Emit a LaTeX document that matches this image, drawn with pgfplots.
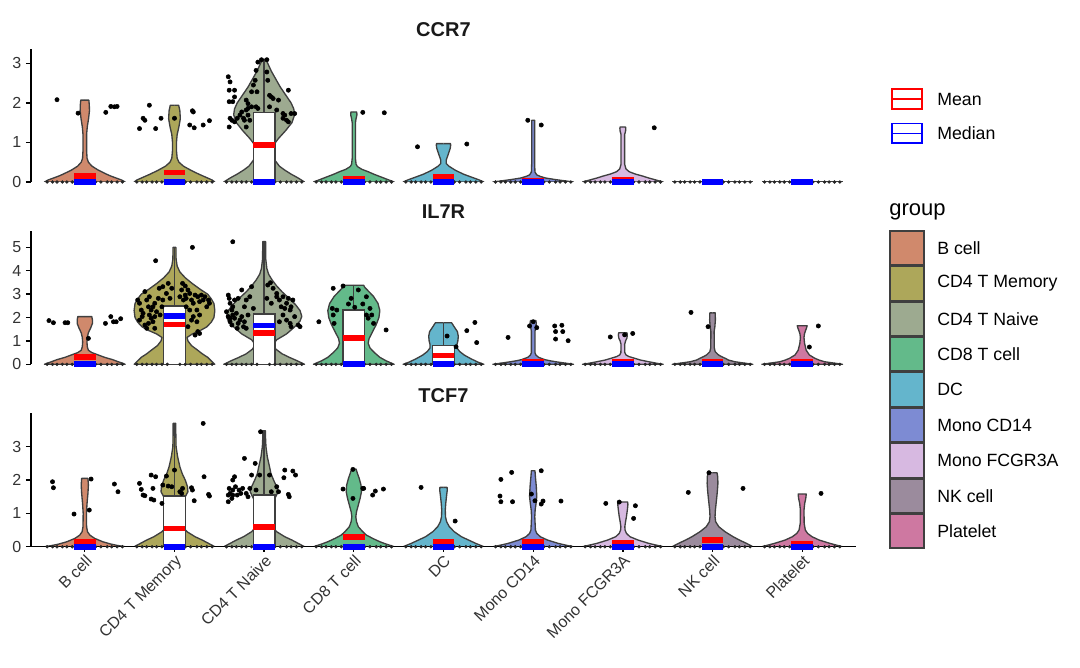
\documentclass[border=0pt]{standalone}
\usepackage{fontspec}
\setmainfont{Liberation Sans}
\usepackage{pgfplots}
\pgfplotsset{compat=1.18}
\usepackage{pgfplotstable}

\definecolor{cBc}{HTML}{D0896C}
\definecolor{cMem}{HTML}{ADA75A}
\definecolor{cNai}{HTML}{9DAA90}
\definecolor{cCD8}{HTML}{63BA8A}
\definecolor{cDC}{HTML}{64B5CC}
\definecolor{cM14}{HTML}{7D8BD3}
\definecolor{cM16}{HTML}{D7B9E1}
\definecolor{cNK}{HTML}{9B8B9D}
\definecolor{cPl}{HTML}{CE78A1}
\definecolor{outl}{HTML}{3F3F3F}
\definecolor{tickc}{HTML}{333333}
\definecolor{medblue}{RGB}{0,0,255}

% violin half-width profiles: y, half width (category units)
% ---- CCR7
\pgfplotstableread{
y w
0 0
0 0.45
0.05 0.41
0.1 0.35
0.15 0.29
0.2 0.24
0.3 0.15
0.4 0.08
0.5 0.04
0.6 0.025
0.8 0.02
1.2 0.02
1.4 0.028
1.6 0.042
1.8 0.052
1.95 0.05
2.07 0.045
2.07 0
}\vAa
\pgfplotstableread{
y w
0 0
0 0.45
0.05 0.42
0.1 0.37
0.15 0.32
0.2 0.27
0.3 0.18
0.4 0.10
0.5 0.05
0.6 0.03
0.8 0.022
1.0 0.022
1.2 0.03
1.4 0.05
1.6 0.065
1.8 0.06
1.94 0.047
1.94 0
}\vAb
\pgfplotstableread{
y w
0 0
0 0.45
0.1 0.38
0.2 0.30
0.3 0.23
0.4 0.17
0.55 0.12
0.75 0.09
0.95 0.11
1.1 0.16
1.3 0.24
1.5 0.31
1.7 0.34
1.85 0.33
2.0 0.30
2.2 0.24
2.4 0.18
2.6 0.13
2.8 0.08
3.0 0.04
3.1 0.02
3.1 0
}\vAc
\pgfplotstableread{
y w
0 0
0 0.45
0.06 0.38
0.13 0.30
0.2 0.22
0.26 0.16
0.32 0.09
0.39 0.04
0.45 0.025
0.6 0.018
1.5 0.018
1.6 0.025
1.7 0.035
1.77 0.032
1.77 0
}\vAd
\pgfplotstableread{
y w
0 0
0 0.45
0.05 0.40
0.1 0.34
0.15 0.28
0.2 0.22
0.3 0.13
0.4 0.06
0.47 0.03
0.55 0.03
0.65 0.045
0.75 0.06
0.85 0.075
0.93 0.08
0.97 0.078
0.97 0
}\vAe
\pgfplotstableread{
y w
0 0
0 0.45
0.03 0.35
0.06 0.25
0.1 0.14
0.14 0.08
0.18 0.04
0.25 0.02
0.5 0.016
1.56 0.016
1.56 0
}\vAf
\pgfplotstableread{
y w
0 0
0 0.45
0.05 0.37
0.1 0.29
0.15 0.22
0.2 0.14
0.26 0.07
0.33 0.035
0.45 0.02
1.2 0.02
1.28 0.03
1.35 0.033
1.39 0.03
1.39 0
}\vAg
% ---- IL7R
\pgfplotstableread{
y w
0 0
0 0.45
0.05 0.42
0.1 0.38
0.2 0.31
0.3 0.22
0.4 0.15
0.5 0.08
0.6 0.04
0.75 0.028
0.95 0.024
1.15 0.028
1.35 0.04
1.55 0.065
1.75 0.085
1.9 0.085
2.04 0.078
2.04 0
}\vBa
\pgfplotstableread{
y w
0 0
0 0.45
0.15 0.41
0.3 0.37
0.45 0.31
0.6 0.26
0.8 0.19
1.0 0.15
1.15 0.14
1.3 0.20
1.45 0.29
1.6 0.36
1.8 0.41
2.0 0.44
2.3 0.45
2.6 0.44
2.8 0.41
3.0 0.37
3.2 0.29
3.45 0.20
3.7 0.12
3.95 0.06
4.2 0.03
4.5 0.018
5.0 0.016
5.0 0
}\vBb
\pgfplotstableread{
y w
0 0
0 0.45
0.15 0.37
0.3 0.28
0.45 0.20
0.65 0.13
0.85 0.10
1.05 0.14
1.3 0.25
1.6 0.34
1.85 0.40
2.05 0.42
2.3 0.40
2.55 0.35
2.85 0.27
3.1 0.20
3.35 0.14
3.6 0.09
3.85 0.05
4.1 0.03
4.5 0.018
5.0 0.016
5.25 0.016
5.25 0
}\vBc
\pgfplotstableread{
y w
0 0
0 0.45
0.15 0.36
0.3 0.29
0.5 0.23
0.7 0.18
0.9 0.16
1.1 0.17
1.4 0.21
1.7 0.25
2.0 0.28
2.3 0.29
2.6 0.27
2.9 0.22
3.1 0.17
3.3 0.12
3.38 0.11
3.38 0
}\vBd
\pgfplotstableread{
y w
0 0
0 0.45
0.1 0.38
0.25 0.30
0.4 0.23
0.55 0.18
0.7 0.15
0.85 0.15
1.0 0.16
1.2 0.165
1.4 0.155
1.6 0.12
1.75 0.095
1.78 0.09
1.78 0
}\vBe
\pgfplotstableread{
y w
0 0
0 0.45
0.05 0.36
0.1 0.27
0.15 0.19
0.2 0.13
0.3 0.06
0.4 0.03
0.5 0.02
1.4 0.02
1.6 0.028
1.75 0.035
1.87 0.03
1.87 0
}\vBf
\pgfplotstableread{
y w
0 0
0 0.45
0.05 0.37
0.11 0.29
0.18 0.20
0.26 0.13
0.33 0.07
0.4 0.035
0.5 0.022
0.85 0.02
1.0 0.03
1.12 0.045
1.25 0.05
1.35 0.046
1.35 0
}\vBg
\pgfplotstableread{
y w
0 0
0 0.45
0.05 0.36
0.11 0.25
0.18 0.18
0.26 0.14
0.33 0.10
0.4 0.067
0.54 0.03
0.7 0.02
1.4 0.018
1.6 0.026
1.9 0.032
2.2 0.03
2.2 0
}\vBh
\pgfplotstableread{
y w
0 0
0 0.45
0.05 0.36
0.11 0.25
0.18 0.19
0.26 0.14
0.4 0.08
0.6 0.045
0.9 0.026
1.15 0.02
1.3 0.025
1.42 0.035
1.55 0.048
1.65 0.055
1.65 0
}\vBi
% ---- TCF7
\pgfplotstableread{
y w
0 0
0 0.45
0.04 0.36
0.08 0.29
0.15 0.20
0.25 0.11
0.35 0.056
0.45 0.03
0.6 0.02
1.0 0.018
1.3 0.025
1.6 0.035
1.85 0.04
2.05 0.035
2.05 0
}\vCa
\pgfplotstableread{
y w
0 0
0 0.45
0.1 0.38
0.2 0.31
0.3 0.23
0.45 0.14
0.6 0.09
0.9 0.07
1.2 0.08
1.45 0.11
1.65 0.15
1.8 0.145
2.0 0.12
2.2 0.085
2.4 0.06
2.7 0.035
3.0 0.018
3.4 0.015
3.7 0.015
3.7 0
}\vCb
\pgfplotstableread{
y w
0 0
0 0.45
0.1 0.38
0.2 0.31
0.3 0.23
0.45 0.14
0.6 0.09
0.9 0.07
1.2 0.085
1.45 0.12
1.65 0.156
1.8 0.14
2.0 0.105
2.2 0.075
2.4 0.06
2.7 0.035
3.0 0.02
3.3 0.015
3.48 0.015
3.48 0
}\vCc
\pgfplotstableread{
y w
0 0
0 0.45
0.08 0.36
0.15 0.29
0.25 0.21
0.35 0.14
0.45 0.10
0.6 0.05
0.75 0.03
0.9 0.022
1.05 0.03
1.25 0.05
1.45 0.07
1.65 0.085
1.85 0.08
2.05 0.06
2.2 0.04
2.33 0.025
2.33 0
}\vCd
\pgfplotstableread{
y w
0 0
0 0.45
0.1 0.36
0.2 0.28
0.3 0.20
0.45 0.12
0.6 0.065
0.75 0.035
0.9 0.022
1.1 0.02
1.3 0.025
1.5 0.033
1.7 0.042
1.78 0.04
1.78 0
}\vCe
\pgfplotstableread{
y w
0 0
0 0.45
0.05 0.36
0.1 0.28
0.2 0.16
0.3 0.08
0.4 0.04
0.5 0.025
0.9 0.018
1.1 0.022
1.3 0.032
1.5 0.04
1.8 0.035
2.1 0.025
2.28 0.02
2.28 0
}\vCf
\pgfplotstableread{
y w
0 0
0 0.45
0.05 0.37
0.1 0.29
0.2 0.17
0.3 0.08
0.4 0.04
0.5 0.025
0.6 0.022
0.75 0.03
0.9 0.04
1.1 0.05
1.25 0.056
1.34 0.055
1.34 0
}\vCg
\pgfplotstableread{
y w
0 0
0 0.45
0.1 0.38
0.2 0.30
0.3 0.23
0.45 0.14
0.6 0.07
0.75 0.035
0.9 0.028
1.1 0.032
1.3 0.04
1.5 0.048
1.7 0.055
1.9 0.06
2.1 0.058
2.22 0.05
2.22 0
}\vCh
\pgfplotstableread{
y w
0 0
0 0.45
0.05 0.38
0.1 0.31
0.2 0.19
0.3 0.11
0.4 0.06
0.5 0.035
0.7 0.022
1.1 0.02
1.3 0.028
1.45 0.04
1.58 0.045
1.58 0
}\vCi

% jittered points
\pgfplotstableread{
x y
0.69 2.08
0.925 1.74
1.234 1.76
1.29 1.91
1.33 1.90
1.36 1.91
1.61 1.35
1.65 1.61
1.67 1.56
1.72 1.94
1.79 1.35
1.85 1.61
2.00 1.61
2.17 1.44
2.22 1.37
2.20 1.80
2.21 1.77
2.32 1.44
2.39 1.55
2.60 2.66
2.62 2.53
2.61 2.32
2.67 2.32
2.67 2.15
2.61 2.03
2.65 2.03
2.61 1.39
2.62 1.61
2.64 1.56
2.67 1.52
2.70 1.61
2.73 1.69
2.75 1.77
2.77 1.61
2.80 2.07
2.82 1.98
2.80 1.82
2.82 1.69
2.84 1.56
2.80 1.39
2.78 1.56
2.86 2.28
2.88 2.45
2.90 2.57
2.91 2.82
2.93 3.03
2.97 3.09
3.03 3.09
2.92 2.28
2.91 1.90
2.93 1.86
2.82 1.86
2.86 1.90
3.06 2.19
3.08 2.15
3.10 2.11
3.16 2.07
3.06 1.90
3.14 1.82
3.04 2.57
3.03 2.78
3.27 2.32
3.21 1.73
3.23 1.69
3.30 1.73
3.34 1.73
3.25 1.56
3.27 1.52
3.21 1.61
4.10 1.76
4.34 1.75
4.71 0.89
5.26 0.96
5.94 1.56
6.09 1.44
7.35 1.37
}\pA
\pgfplotstableread{
x y
0.60 1.87
0.65 1.78
0.78 1.78
0.81 1.78
1.04 1.11
1.23 1.75
1.29 2.04
1.32 1.82
1.35 1.82
1.40 1.95
1.79 4.43
2.20 5.00
1.59 2.75
1.61 2.61
1.63 2.32
1.65 2.18
1.67 3.11
1.69 2.75
1.71 2.46
1.72 2.11
1.74 1.97
1.67 1.68
1.69 1.54
1.71 1.75
1.76 1.82
1.78 1.54
1.74 2.32
1.76 2.46
1.78 2.61
1.80 2.25
1.82 2.82
1.84 2.11
1.83 3.25
1.86 2.46
1.87 3.32
1.61 1.89
1.64 2.04
1.72 2.89
1.78 2.04
1.87 2.75
1.91 3.03
1.93 3.46
1.95 2.82
1.97 3.25
2.06 2.89
2.08 3.18
2.10 2.75
2.12 2.96
2.13 2.82
2.15 3.18
2.17 3.03
2.19 2.75
2.21 2.61
2.23 2.96
2.25 2.32
2.26 2.89
2.28 2.68
2.30 2.96
2.32 2.75
2.34 2.89
2.36 2.46
2.38 2.75
2.39 2.61
2.17 2.32
2.21 2.04
2.25 1.82
2.28 2.11
2.19 1.89
2.23 1.25
2.26 1.40
2.28 1.32
2.15 1.61
2.13 2.46
2.09 3.46
2.12 3.35
2.65 5.24
2.60 2.96
2.61 2.82
2.62 2.61
2.58 2.25
2.60 2.04
2.62 1.82
2.64 1.68
2.65 2.11
2.67 1.97
2.69 2.18
2.71 1.75
2.73 1.89
2.75 2.04
2.77 1.61
2.78 1.82
2.80 1.54
2.82 2.11
2.67 2.75
2.71 2.82
2.75 3.18
2.78 2.46
2.80 2.75
2.84 2.89
2.86 3.32
2.88 2.39
2.65 2.46
2.64 2.32
2.70 1.54
2.62 1.97
3.03 2.82
3.04 3.39
3.07 3.49
3.10 3.25
3.14 2.89
3.17 2.75
3.19 2.46
3.21 2.89
3.23 2.39
3.25 2.61
3.27 2.82
3.29 2.32
3.30 2.46
3.32 2.75
3.34 2.04
3.29 1.75
3.30 1.61
3.25 1.89
3.21 2.11
3.38 1.68
3.40 1.61
3.17 1.82
3.14 3.03
3.08 2.61
3.77 3.25
3.88 3.35
4.05 3.18
4.14 2.89
3.97 2.82
3.94 2.58
4.01 2.44
3.76 2.39
3.81 2.32
4.10 2.58
4.18 2.39
4.14 2.11
4.20 2.11
4.16 1.97
3.77 2.11
3.78 1.75
4.22 1.75
4.36 1.47
3.61 1.82
5.04 1.21
5.14 0.75
5.26 1.44
5.35 1.79
5.37 0.93
5.72 1.15
5.96 1.64
6.00 1.82
6.04 1.57
6.24 1.64
6.32 1.67
6.25 1.40
6.33 1.40
6.25 1.08
6.39 1.01
6.86 1.17
7.02 1.26
7.11 1.32
7.76 2.22
7.95 1.61
9.18 1.64
9.08 0.74
}\pB
\pgfplotstableread{
x y
0.64 1.95
0.65 1.77
0.88 0.98
1.05 1.10
1.07 2.03
1.33 1.88
1.37 1.65
1.61 1.90
1.63 1.72
1.65 1.55
1.74 2.15
1.76 1.75
1.77 1.40
1.79 2.10
1.74 1.43
1.86 1.30
1.87 1.85
1.91 2.12
1.93 1.82
1.97 1.80
2.00 2.30
2.06 1.65
2.08 1.60
2.09 1.75
2.19 1.77
2.20 1.70
2.22 1.38
2.33 2.10
2.32 3.70
2.38 1.57
2.39 1.52
1.67 1.53
2.60 1.35
2.60 1.55
2.61 1.75
2.62 1.60
2.65 1.70
2.65 2.00
2.67 2.10
2.68 1.80
2.70 1.55
2.72 1.70
2.74 1.60
2.76 1.75
2.78 2.65
2.80 1.60
2.82 1.50
2.84 1.75
2.86 2.15
2.90 2.50
2.91 1.70
2.95 2.15
2.96 3.45
3.06 2.15
3.08 1.65
3.14 1.80
3.16 1.65
3.22 2.07
3.23 2.30
3.27 1.57
3.28 1.50
3.32 2.27
3.35 2.15
2.65 1.55
2.64 1.45
3.88 1.73
3.99 2.32
3.99 1.45
4.10 1.75
4.11 1.75
4.21 1.55
4.24 1.67
4.33 1.73
4.75 1.78
5.13 0.77
5.64 2.02
5.76 2.23
5.63 1.52
5.64 1.35
5.77 1.35
5.98 1.58
6.02 1.38
6.09 2.28
6.11 1.37
6.09 1.28
6.31 1.37
6.81 1.30
6.96 1.34
7.14 1.23
7.12 0.85
7.73 1.63
7.96 2.22
8.34 1.75
9.21 1.60
}\pC
% cells at zero, offsets from each group centre
\pgfplotstableread{
dx y
-0.42 0
-0.36 0
-0.31 0
-0.25 0
-0.2 0
-0.14 0
-0.08 0
0.06 0
0.12 0
0.18 0
0.25 0
0.3 0
0.36 0
0.42 0
}\zoff

\pgfplotsset{
  vpanel/.style={
    scale only axis, width=618.75pt, height=100pt,
    xmin=0.4, xmax=9.6, ymin=0,
    axis y line*=left, axis on top,
    axis line style={-, line width=1pt, black},
    tick align=outside, major tick length=3.75pt,
    tick style={line width=1pt, black},
    tick label style={font=\fontsize{12pt}{14pt}\selectfont, text=tickc},
    /pgf/number format/assume math mode=true,
  },
  vln/.style={draw=outl, line width=1pt, line join=round, forget plot},
  boxst/.style={draw=outl, fill=white, line width=1pt, forget plot},
  pts/.style={only marks, mark=*, mark size=1.6pt, black, forget plot},
  zpts/.style={only marks, mark=*, mark size=1.05pt, black!85, forget plot},
  % crossbar of 0.24 category units (0.12 units = 8.07pt)
  meanbar/.style={only marks, mark=-, mark size=8.07pt, forget plot,
    mark options={draw=red, line width=4.3pt}},
  medbar/.style={only marks, mark=-, mark size=8.07pt, forget plot,
    mark options={draw=medblue, line width=4.3pt}},
}

\newcommand\violin[3]{%
  \addplot[fill=#2, draw=none, forget plot] table[x expr=#1+\thisrow{w}, y=y] {#3};
  \addplot[fill=#2, draw=none, forget plot] table[x expr=#1-\thisrow{w}, y=y] {#3};
  \addplot[draw=#2, line width=1pt, forget plot] table[x expr=#1, y=y] {#3};
  \addplot[vln] table[x expr=#1+\thisrow{w}, y=y] {#3};
  \addplot[vln] table[x expr=#1-\thisrow{w}, y=y] {#3};
}
\newcommand\zeropts{%
  \pgfplotsinvokeforeach{1,...,9}{%
    \addplot[zpts] table[x expr=##1+\thisrow{dx}, y=y] {\zoff};}}

\newcommand\lgfont{\fontsize{13.3pt}{16pt}\selectfont}

\begin{document}
\begin{tikzpicture}
\path[use as bounding box] (0,0) rectangle (810pt,500.25pt);

% ---------------- CCR7
\begin{axis}[vpanel, at={(23.25pt,363.75pt)}, anchor=south west,
  ymax=3.37, ytick={0,1,2,3}, hide x axis]
\violin{1}{cBc}{\vAa}
\violin{2}{cMem}{\vAb}
\violin{3}{cNai}{\vAc}
\violin{4}{cCD8}{\vAd}
\violin{5}{cDC}{\vAe}
\violin{6}{cM14}{\vAf}
\violin{7}{cM16}{\vAg}
\addplot[vln] coordinates {(7.55,0) (8.45,0)};
\addplot[vln] coordinates {(8.55,0) (9.45,0)};
\zeropts
\addplot[pts] table {\pA};
\addplot[vln] coordinates {(3,1.76) (3,3.08)};
\addplot[boxst] coordinates {(2.88,0) (2.88,1.76) (3.12,1.76) (3.12,0)} -- cycle;
\addplot[meanbar] coordinates {(1,0.16) (2,0.24) (3,0.93) (4,0.08) (5,0.12) (6,0.04) (7,0.05) (8,0) (9,0)};
\addplot[medbar] coordinates {(1,0) (2,0) (3,0) (4,0) (5,0) (6,0) (7,0) (8,0) (9,0)};
\end{axis}

% ---------------- IL7R
\begin{axis}[vpanel, at={(23.25pt,227pt)}, anchor=south west,
  ymax=5.7, ytick={0,1,2,3,4,5}, hide x axis]
\violin{1}{cBc}{\vBa}
\violin{2}{cMem}{\vBb}
\violin{3}{cNai}{\vBc}
\violin{4}{cCD8}{\vBd}
\violin{5}{cDC}{\vBe}
\violin{6}{cM14}{\vBf}
\violin{7}{cM16}{\vBg}
\violin{8}{cNK}{\vBh}
\violin{9}{cPl}{\vBi}
\zeropts
\addplot[pts] table {\pB};
\addplot[vln] coordinates {(2,2.49) (2,5.0)};
\addplot[vln] coordinates {(3,2.15) (3,5.25)};
\addplot[vln] coordinates {(4,2.32) (4,3.38)};
\addplot[vln] coordinates {(5,0.80) (5,1.78)};
\addplot[boxst] coordinates {(1.88,0) (1.88,2.49) (2.12,2.49) (2.12,0)} -- cycle;
\addplot[boxst] coordinates {(2.88,0) (2.88,2.15) (3.12,2.15) (3.12,0)} -- cycle;
\addplot[boxst] coordinates {(3.88,0) (3.88,2.32) (4.12,2.32) (4.12,0)} -- cycle;
\addplot[boxst] coordinates {(4.88,0) (4.88,0.80) (5.12,0.80) (5.12,0)} -- cycle;
\addplot[meanbar] coordinates {(1,0.30) (2,1.70) (3,1.34) (4,1.13) (5,0.38) (6,0.12) (7,0.09) (8,0.11) (9,0.12)};
\addplot[medbar] coordinates {(1,0) (2,2.06) (3,1.66) (4,0) (5,0) (6,0) (7,0) (8,0) (9,0)};
\end{axis}

% ---------------- TCF7
\begin{axis}[vpanel, at={(23.25pt,90.2pt)}, anchor=south west,
  ymax=4.0, ytick={0,1,2,3},
  axis x line*=bottom,
  xtick={1,...,9},
  xticklabels={B cell, CD4 T Memory, CD4 T Naive, CD8 T cell, DC, Mono CD14, Mono FCGR3A, NK cell, Platelet},
  xticklabel style={rotate=45, anchor=north east, inner sep=1pt}]
\violin{1}{cBc}{\vCa}
\violin{2}{cMem}{\vCb}
\violin{3}{cNai}{\vCc}
\violin{4}{cCD8}{\vCd}
\violin{5}{cDC}{\vCe}
\violin{6}{cM14}{\vCf}
\violin{7}{cM16}{\vCg}
\violin{8}{cNK}{\vCh}
\violin{9}{cPl}{\vCi}
\zeropts
\addplot[pts] table {\pC};
\addplot[vln] coordinates {(2,1.52) (2,3.7)};
\addplot[vln] coordinates {(3,1.55) (3,3.48)};
\addplot[boxst] coordinates {(1.88,0) (1.88,1.52) (2.12,1.52) (2.12,0)} -- cycle;
\addplot[boxst] coordinates {(2.88,0) (2.88,1.55) (3.12,1.55) (3.12,0)} -- cycle;
\addplot[meanbar] coordinates {(1,0.14) (2,0.55) (3,0.60) (4,0.30) (5,0.15) (6,0.15) (7,0.12) (8,0.20) (9,0.09)};
\addplot[medbar] coordinates {(1,0) (2,0) (3,0) (4,0) (5,0) (6,0) (7,0) (8,0) (9,0)};
\end{axis}

% panel titles
\begin{scope}[every node/.style={font=\bfseries\fontsize{15pt}{18pt}\selectfont, text=black!90}]
\node at (332.6pt,477.75pt) {CCR7};
\node at (332.6pt,341.25pt) {IL7R};
\node at (332.6pt,203.25pt) {TCF7};
\end{scope}

% legend: summary statistics (crossbar keys)
\draw[draw=red, line width=1.2pt] (669pt,418.5pt) rectangle (691.5pt,433.5pt);
\draw[draw=red, line width=1.2pt] (669pt,426pt) -- (691.5pt,426pt);
\draw[draw=medblue, line width=1.2pt] (669pt,393pt) rectangle (691.5pt,407.5pt);
\draw[draw=medblue, line width=1.2pt] (669pt,400.25pt) -- (691.5pt,400.25pt);
\node[anchor=west, font=\lgfont, inner sep=0pt] at (702.75pt,426pt) {Mean};
\node[anchor=west, font=\lgfont, inner sep=0pt] at (702.75pt,400.25pt) {Median};

% legend: groups
\node[anchor=base west, font=\fontsize{16.5pt}{19pt}\selectfont, inner sep=0pt] at (666.75pt,338.25pt) {group};
\foreach \c/\t [count=\k from 0] in {cBc/B cell, cMem/CD4 T Memory, cNai/CD4 T Naive, cCD8/CD8 T cell, cDC/DC, cM14/Mono CD14, cM16/Mono FCGR3A, cNK/NK cell, cPl/Platelet}{
  \draw[fill=\c, draw=outl, line width=1.3pt] (667.5pt,{327pt-26.55pt*\k}) rectangle (693pt,{301.5pt-26.55pt*\k});
  \node[anchor=west, font=\lgfont, inner sep=0pt] at (702.75pt,{314.25pt-26.55pt*\k}) {\t};
}
\end{tikzpicture}
\end{document}
